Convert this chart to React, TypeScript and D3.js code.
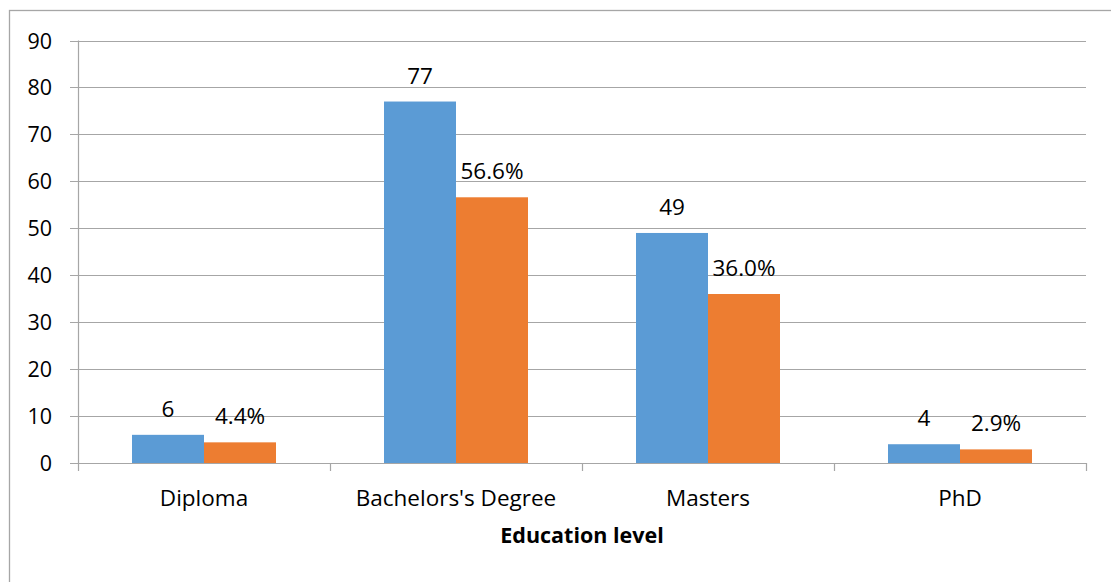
import React from "react";
import * as d3 from "d3";

const categories = ["Diploma", "Bachelors's Degree", "Masters", "PhD"];
const counts = [6, 77, 49, 4];
const percents = [4.4, 56.6, 36.0, 2.9];
const yTicks = [0, 10, 20, 30, 40, 50, 60, 70, 80, 90];
const xTitle = "Education level";

const W = 1111;
const H = 582;
const left = 78;
const right = 1086;
const top = 40.5;
const bottom = 463;
const grid = "#a6a6a6";
const font = "'Open Sans', 'Noto Sans', sans-serif";

export default function App() {
  const x = d3.scaleBand<string>().domain(categories).range([left, right]);
  const y = d3.scaleLinear().domain([0, 90]).range([bottom, top]);
  const bw = 72;
  const sub = d3.scaleBand<string>().domain(["c", "p"]).range([0, bw * 2]);
  const pad = (x.bandwidth() - bw * 2) / 2;

  return (
    <svg width={W} height={H} style={{ position: "absolute", left: 0, top: 0, background: "#fff" }}>
      <rect x={9.5} y={10.5} width={W + 10} height={H + 10} fill="none" stroke={grid} strokeWidth={1.3} />
      {yTicks.map((t) => (
        <g key={t}>
          <line x1={left - 8} x2={right} y1={Math.round(y(t)) + 0.5} y2={Math.round(y(t)) + 0.5} stroke={grid} strokeWidth={1.2} />
          <text x={52} y={y(t) + 8} textAnchor="end" fontFamily={font} fontSize={21.5} fill="#000">{t}</text>
        </g>
      ))}
      <line x1={left + 0.5} x2={left + 0.5} y1={top} y2={bottom} stroke={grid} strokeWidth={1.2} />
      {categories.map((c, i) => {
        const x0 = (x(c) as number) + pad;
        return (
          <g key={c}>
            <rect x={x0 + (sub("c") as number)} y={y(counts[i])} width={sub.bandwidth()} height={bottom - y(counts[i])} fill="#5B9BD5" />
            <rect x={x0 + (sub("p") as number)} y={y(percents[i])} width={sub.bandwidth()} height={bottom - y(percents[i])} fill="#ED7D31" />
            <text x={x0 + (sub("c") as number) + sub.bandwidth() / 2} y={y(counts[i]) - 18} textAnchor="middle" fontFamily={font} fontSize={22.5}>{counts[i]}</text>
            <text x={x0 + (sub("p") as number) + sub.bandwidth() / 2} y={y(percents[i]) - 18} textAnchor="middle" fontFamily={font} fontSize={22.5}>{percents[i].toFixed(1) + "%"}</text>
            <text x={(x(c) as number) + x.bandwidth() / 2} y={506} textAnchor="middle" fontFamily={font} fontSize={22.5}>{c}</text>
          </g>
        );
      })}
      {[...categories.map((c) => x(c) as number), right].map((v, i) => (
        <line key={i} x1={Math.round(v) + 0.5} x2={Math.round(v) + 0.5} y1={bottom} y2={bottom + 8} stroke={grid} strokeWidth={1.2} />
      ))}
      <text x={(left + right) / 2} y={543} textAnchor="middle" fontFamily={font} fontSize={21.5} fontWeight="bold">{xTitle}</text>
    </svg>
  );
}
